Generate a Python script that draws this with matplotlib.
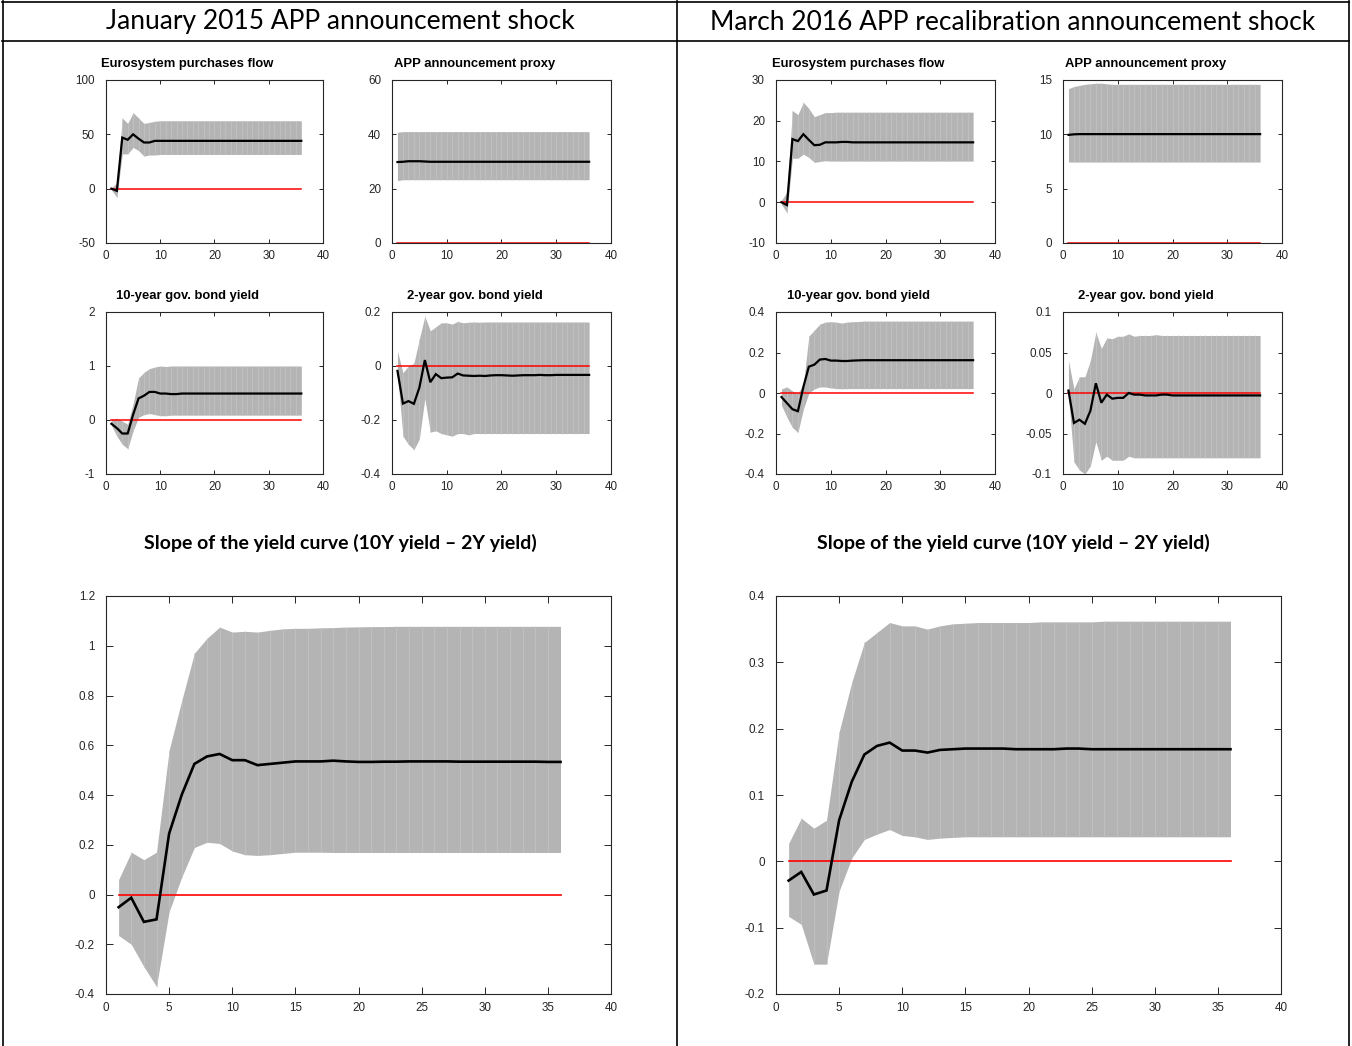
import numpy as np
import matplotlib
matplotlib.use("Agg")
import matplotlib.pyplot as plt
from matplotlib.lines import Line2D
from matplotlib.ticker import FuncFormatter

plt.rcParams['font.family'] = ['Liberation Sans', 'DejaVu Sans']
plt.rcParams['axes.unicode_minus'] = False

# horizon
h = list(range(1, 37))

# ---- January 2015 APP announcement shock ----
jan_flow_med = [0.0, -2.0, 47.0, 45.0, 50.0, 46.0, 42.5, 42.5, 44.0, 44.0, 44.0, 44.0,
                44.0, 44.0, 44.0, 44.0, 44.0, 44.0, 44.0, 44.0, 44.0, 44.0, 44.0, 44.0,
                44.0, 44.0, 44.0, 44.0, 44.0, 44.0, 44.0, 44.0, 44.0, 44.0, 44.0, 44.0]
jan_flow_hi = [1.0, 5.0, 65.0, 60.0, 70.0, 65.0, 60.0, 61.0, 62.0, 62.5, 62.5, 62.5,
               62.5, 62.5, 62.5, 62.5, 62.5, 62.5, 62.5, 62.5, 62.5, 62.5, 62.5, 62.5,
               62.5, 62.5, 62.5, 62.5, 62.5, 62.5, 62.5, 62.5, 62.5, 62.5, 62.5, 62.5]
jan_flow_lo = [-1.0, -8.0, 32.0, 32.0, 38.0, 35.0, 30.0, 31.0, 31.0, 31.5, 31.5, 31.5,
               31.5, 31.5, 31.5, 31.5, 31.5, 31.5, 31.5, 31.5, 31.5, 31.5, 31.5, 31.5,
               31.5, 31.5, 31.5, 31.5, 31.5, 31.5, 31.5, 31.5, 31.5, 31.5, 31.5, 31.5]

jan_proxy_med = [29.8, 29.9, 30.1, 30.1, 30.1, 30.0, 29.9, 29.9, 29.9, 29.9, 29.9, 29.9,
                 29.9, 29.9, 29.9, 29.9, 29.9, 29.9, 29.9, 29.9, 29.9, 29.9, 29.9, 29.9,
                 29.9, 29.9, 29.9, 29.9, 29.9, 29.9, 29.9, 29.9, 29.9, 29.9, 29.9, 29.9]
jan_proxy_hi = [40.8, 41.0, 41.0, 41.0, 41.0, 41.0, 41.0, 41.0, 41.0, 41.0, 41.0, 41.0,
                41.0, 41.0, 41.0, 41.0, 41.0, 41.0, 41.0, 41.0, 41.0, 41.0, 41.0, 41.0,
                41.0, 41.0, 41.0, 41.0, 41.0, 41.0, 41.0, 41.0, 41.0, 41.0, 41.0, 41.0]
jan_proxy_lo = [23.0, 23.3, 23.3, 23.3, 23.3, 23.3, 23.3, 23.3, 23.3, 23.3, 23.3, 23.3,
                23.3, 23.3, 23.3, 23.3, 23.3, 23.3, 23.3, 23.3, 23.3, 23.3, 23.3, 23.3,
                23.3, 23.3, 23.3, 23.3, 23.3, 23.3, 23.3, 23.3, 23.3, 23.3, 23.3, 23.3]

jan_10y_med = [-0.07, -0.15, -0.25, -0.25, 0.10, 0.40, 0.45, 0.52, 0.52, 0.49, 0.49, 0.48,
               0.48, 0.49, 0.49, 0.49, 0.49, 0.49, 0.49, 0.49, 0.49, 0.49, 0.49, 0.49,
               0.49, 0.49, 0.49, 0.49, 0.49, 0.49, 0.49, 0.49, 0.49, 0.49, 0.49, 0.49]
jan_10y_hi = [0.02, 0.03, -0.02, -0.08, 0.30, 0.78, 0.88, 0.95, 0.98, 1.00, 0.99, 1.00,
              1.00, 1.00, 1.00, 1.00, 1.00, 1.00, 1.00, 1.00, 1.00, 1.00, 1.00, 1.00,
              1.00, 1.00, 1.00, 1.00, 1.00, 1.00, 1.00, 1.00, 1.00, 1.00, 1.00, 1.00]
jan_10y_lo = [-0.10, -0.30, -0.45, -0.53, -0.20, 0.05, 0.10, 0.12, 0.10, 0.08, 0.08, 0.09,
              0.09, 0.09, 0.09, 0.09, 0.09, 0.09, 0.09, 0.09, 0.09, 0.09, 0.09, 0.09,
              0.09, 0.09, 0.09, 0.09, 0.09, 0.09, 0.09, 0.09, 0.09, 0.09, 0.09, 0.09]

jan_2y_med = [-0.018, -0.139, -0.130, -0.140, -0.080, 0.022, -0.060, -0.030, -0.045, -0.043, -0.042, -0.028,
              -0.035, -0.036, -0.037, -0.036, -0.037, -0.035, -0.034, -0.034, -0.035, -0.036, -0.035, -0.034,
              -0.034, -0.034, -0.033, -0.034, -0.034, -0.033, -0.033, -0.033, -0.033, -0.033, -0.033, -0.033]
jan_2y_hi = [0.055, -0.025, 0.000, 0.010, 0.100, 0.184, 0.130, 0.145, 0.160, 0.160, 0.155, 0.165,
             0.160, 0.162, 0.163, 0.162, 0.163, 0.163, 0.163, 0.163, 0.163, 0.163, 0.163, 0.163,
             0.163, 0.163, 0.163, 0.163, 0.163, 0.163, 0.163, 0.163, 0.163, 0.163, 0.163, 0.163]
jan_2y_lo = [-0.030, -0.260, -0.290, -0.310, -0.270, -0.120, -0.245, -0.240, -0.250, -0.255, -0.260, -0.250,
             -0.250, -0.255, -0.250, -0.250, -0.250, -0.250, -0.250, -0.250, -0.250, -0.250, -0.250, -0.250,
             -0.250, -0.250, -0.250, -0.250, -0.250, -0.250, -0.250, -0.250, -0.250, -0.250, -0.250, -0.250]

jan_slope_med = [-0.051, -0.013, -0.110, -0.100, 0.245, 0.401, 0.525, 0.555, 0.565, 0.540, 0.540, 0.520,
                 0.525, 0.530, 0.535, 0.535, 0.535, 0.538, 0.535, 0.533, 0.533, 0.534, 0.534, 0.535,
                 0.535, 0.535, 0.535, 0.534, 0.534, 0.534, 0.534, 0.534, 0.534, 0.534, 0.533, 0.533]
jan_slope_hi = [0.060, 0.170, 0.140, 0.170, 0.580, 0.780, 0.970, 1.030, 1.075, 1.055, 1.058, 1.055,
                1.062, 1.068, 1.070, 1.070, 1.072, 1.073, 1.075, 1.076, 1.077, 1.077, 1.078, 1.078,
                1.078, 1.078, 1.078, 1.078, 1.078, 1.078, 1.078, 1.078, 1.078, 1.078, 1.078, 1.078]
jan_slope_lo = [-0.165, -0.200, -0.290, -0.370, -0.069, 0.070, 0.189, 0.210, 0.205, 0.175, 0.160, 0.157,
                0.160, 0.165, 0.170, 0.170, 0.170, 0.169, 0.169, 0.169, 0.169, 0.169, 0.169, 0.169,
                0.169, 0.169, 0.169, 0.169, 0.169, 0.169, 0.169, 0.169, 0.169, 0.169, 0.169, 0.169]

# ---- March 2016 APP recalibration announcement shock ----
mar_flow_med = [0.0, -0.7, 15.5, 15.0, 16.7, 15.3, 14.0, 14.1, 14.7, 14.7, 14.7, 14.8,
                14.8, 14.7, 14.7, 14.7, 14.7, 14.7, 14.7, 14.7, 14.7, 14.7, 14.7, 14.7,
                14.7, 14.7, 14.7, 14.7, 14.7, 14.7, 14.7, 14.7, 14.7, 14.7, 14.7, 14.7]
mar_flow_hi = [0.5, 2.5, 22.5, 21.5, 24.5, 23.0, 21.0, 21.5, 22.0, 22.0, 22.1, 22.1,
               22.1, 22.1, 22.1, 22.1, 22.1, 22.1, 22.1, 22.1, 22.1, 22.1, 22.1, 22.1,
               22.1, 22.1, 22.1, 22.1, 22.1, 22.1, 22.1, 22.1, 22.1, 22.1, 22.1, 22.1]
mar_flow_lo = [-0.5, -2.6, 10.8, 10.8, 11.8, 11.0, 9.8, 10.0, 10.2, 10.1, 10.1, 10.1,
               10.1, 10.1, 10.1, 10.1, 10.1, 10.1, 10.1, 10.1, 10.1, 10.1, 10.1, 10.1,
               10.1, 10.1, 10.1, 10.1, 10.1, 10.1, 10.1, 10.1, 10.1, 10.1, 10.1, 10.1]

mar_proxy_med = [9.95, 10.0, 10.02, 10.02, 10.02, 10.02, 10.02, 10.02, 10.02, 10.02, 10.02, 10.02,
                 10.02, 10.02, 10.02, 10.02, 10.02, 10.02, 10.02, 10.02, 10.02, 10.02, 10.02, 10.02,
                 10.02, 10.02, 10.02, 10.02, 10.02, 10.02, 10.02, 10.02, 10.02, 10.02, 10.02, 10.02]
mar_proxy_hi = [14.2, 14.4, 14.5, 14.6, 14.65, 14.7, 14.7, 14.65, 14.6, 14.6, 14.6, 14.6,
                14.6, 14.6, 14.6, 14.6, 14.6, 14.6, 14.6, 14.6, 14.6, 14.6, 14.6, 14.6,
                14.6, 14.6, 14.6, 14.6, 14.6, 14.6, 14.6, 14.6, 14.6, 14.6, 14.6, 14.6]
mar_proxy_lo = [7.45, 7.45, 7.45, 7.45, 7.45, 7.45, 7.45, 7.45, 7.45, 7.45, 7.45, 7.45,
                7.45, 7.45, 7.45, 7.45, 7.45, 7.45, 7.45, 7.45, 7.45, 7.45, 7.45, 7.45,
                7.45, 7.45, 7.45, 7.45, 7.45, 7.45, 7.45, 7.45, 7.45, 7.45, 7.45, 7.45]

mar_10y_med = [-0.020, -0.050, -0.080, -0.090, 0.030, 0.130, 0.140, 0.165, 0.168, 0.160, 0.160, 0.158,
               0.158, 0.160, 0.161, 0.162, 0.162, 0.162, 0.162, 0.162, 0.162, 0.162, 0.162, 0.162,
               0.162, 0.162, 0.162, 0.162, 0.162, 0.162, 0.162, 0.162, 0.162, 0.162, 0.162, 0.162]
mar_10y_hi = [0.020, 0.030, 0.010, 0.000, 0.040, 0.281, 0.310, 0.340, 0.350, 0.352, 0.350, 0.345,
              0.350, 0.352, 0.353, 0.355, 0.355, 0.355, 0.355, 0.355, 0.355, 0.355, 0.355, 0.355,
              0.355, 0.355, 0.355, 0.355, 0.355, 0.355, 0.355, 0.355, 0.355, 0.355, 0.355, 0.355]
mar_10y_lo = [-0.060, -0.120, -0.170, -0.195, -0.080, 0.000, 0.020, 0.030, 0.030, 0.025, 0.022, 0.021,
              0.022, 0.022, 0.022, 0.022, 0.022, 0.022, 0.022, 0.022, 0.022, 0.022, 0.022, 0.022,
              0.022, 0.022, 0.022, 0.022, 0.022, 0.022, 0.022, 0.022, 0.022, 0.022, 0.022, 0.022]

mar_2y_med = [0.003, -0.037, -0.033, -0.038, -0.022, 0.012, -0.012, -0.002, -0.007, -0.006, -0.006, 0.000,
              -0.002, -0.002, -0.003, -0.003, -0.003, -0.002, -0.002, -0.003, -0.003, -0.003, -0.003, -0.003,
              -0.003, -0.003, -0.003, -0.003, -0.003, -0.003, -0.003, -0.003, -0.003, -0.003, -0.003, -0.003]
mar_2y_hi = [0.040, 0.005, 0.020, 0.020, 0.040, 0.075, 0.055, 0.068, 0.067, 0.070, 0.070, 0.073,
             0.070, 0.071, 0.071, 0.071, 0.072, 0.071, 0.071, 0.071, 0.071, 0.071, 0.071, 0.071,
             0.071, 0.071, 0.071, 0.071, 0.071, 0.071, 0.071, 0.071, 0.071, 0.071, 0.071, 0.071]
mar_2y_lo = [-0.003, -0.085, -0.095, -0.100, -0.090, -0.060, -0.083, -0.078, -0.083, -0.083, -0.083, -0.078,
             -0.080, -0.080, -0.080, -0.080, -0.080, -0.080, -0.080, -0.080, -0.080, -0.080, -0.080, -0.080,
             -0.080, -0.080, -0.080, -0.080, -0.080, -0.080, -0.080, -0.080, -0.080, -0.080, -0.080, -0.080]

mar_slope_med = [-0.029, -0.016, -0.050, -0.044, 0.062, 0.120, 0.161, 0.174, 0.179, 0.167, 0.167, 0.164,
                 0.168, 0.169, 0.170, 0.170, 0.170, 0.170, 0.169, 0.169, 0.169, 0.169, 0.170, 0.170,
                 0.169, 0.169, 0.169, 0.169, 0.169, 0.169, 0.169, 0.169, 0.169, 0.169, 0.169, 0.169]
mar_slope_hi = [0.027, 0.065, 0.050, 0.062, 0.195, 0.270, 0.330, 0.345, 0.360, 0.355, 0.355, 0.350,
                0.355, 0.358, 0.359, 0.360, 0.360, 0.360, 0.360, 0.360, 0.361, 0.361, 0.361, 0.361,
                0.361, 0.362, 0.362, 0.362, 0.362, 0.362, 0.362, 0.362, 0.362, 0.362, 0.362, 0.362]
mar_slope_lo = [-0.083, -0.095, -0.155, -0.155, -0.045, 0.005, 0.033, 0.041, 0.048, 0.039, 0.037, 0.033,
                0.035, 0.036, 0.037, 0.037, 0.037, 0.037, 0.037, 0.037, 0.037, 0.037, 0.037, 0.037,
                0.037, 0.037, 0.037, 0.037, 0.037, 0.037, 0.037, 0.037, 0.037, 0.037, 0.037, 0.037]

col_titles = ['January 2015 APP announcement shock',
              'March 2016 APP recalibration announcement shock']
slope_title = 'Slope of the yield curve (10Y yield \u2013 2Y yield)'

W, H = 1352, 1046
fig = plt.figure(figsize=(W / 100, H / 100), dpi=100)

BAND = '#b4b4b4'
AX_COL = '#262626'


def fmt(v, pos):
    return '%g' % round(v, 6)


def add_ax(x0, y0, x1, y1):
    return fig.add_axes([x0 / W, 1 - y1 / H, (x1 - x0) / W, (y1 - y0) / H])


def draw(ax, med, hi, lo, ylim, yticks, xstep, big=False, title=None):
    x = np.array(h)
    ax.fill_between(x, lo, hi, color=BAND, lw=0)
    # light seams like the original patch rendering
    ax.vlines(x[1:-1], np.array(lo)[1:-1], np.array(hi)[1:-1], color='#c6c6c6', lw=0.45)
    ax.plot([1, 36], [0, 0], color='#ff0000', lw=1.2 if big else 1.1)
    ax.plot(x, med, color='black', lw=1.9 if big else 1.6, solid_joinstyle='miter')
    ax.set_xlim(0, 40)
    ax.set_ylim(*ylim)
    ax.set_xticks(np.arange(0, 41, xstep))
    ax.set_yticks(yticks)
    ax.xaxis.set_major_formatter(FuncFormatter(fmt))
    ax.yaxis.set_major_formatter(FuncFormatter(fmt))
    ax.tick_params(direction='in', top=True, right=True, length=5 if big else 3,
                   width=0.7, color=AX_COL, labelcolor=AX_COL, labelsize=8.4)
    ax.tick_params(axis='y', pad=8)
    ax.tick_params(axis='x', pad=6 if big else 5)
    for s in ax.spines.values():
        s.set_linewidth(0.8)
        s.set_color(AX_COL)
    if title:
        wpx = ax.get_position().width * W
        hpx = ax.get_position().height * H
        ax.text(0.5 - 27 / wpx, 1 + 16 / hpx, title, transform=ax.transAxes,
                ha='center', va='center', fontsize=9.4, fontweight='bold')


# column A/B (January) and C/D (March) small panels
small = [
    ((106, 80, 323, 243), jan_flow_med, jan_flow_hi, jan_flow_lo, (-50, 100), [-50, 0, 50, 100], 'Eurosystem purchases flow'),
    ((392, 80, 611, 243), jan_proxy_med, jan_proxy_hi, jan_proxy_lo, (0, 60), [0, 20, 40, 60], 'APP announcement proxy'),
    ((106, 312, 323, 474), jan_10y_med, jan_10y_hi, jan_10y_lo, (-1, 2), [-1, 0, 1, 2], '10-year gov. bond yield'),
    ((392, 312, 611, 474), jan_2y_med, jan_2y_hi, jan_2y_lo, (-0.4, 0.2), [-0.4, -0.2, 0, 0.2], '2-year gov. bond yield'),
    ((776, 80, 995, 243), mar_flow_med, mar_flow_hi, mar_flow_lo, (-10, 30), [-10, 0, 10, 20, 30], 'Eurosystem purchases flow'),
    ((1063, 80, 1282, 243), mar_proxy_med, mar_proxy_hi, mar_proxy_lo, (0, 15), [0, 5, 10, 15], 'APP announcement proxy'),
    ((776, 312, 995, 474), mar_10y_med, mar_10y_hi, mar_10y_lo, (-0.4, 0.4), [-0.4, -0.2, 0, 0.2, 0.4], '10-year gov. bond yield'),
    ((1063, 312, 1282, 474), mar_2y_med, mar_2y_hi, mar_2y_lo, (-0.1, 0.1), [-0.1, -0.05, 0, 0.05, 0.1], '2-year gov. bond yield'),
]
for box, med, hi, lo, yl, yt, title in small:
    ax = add_ax(*box)
    draw(ax, med, hi, lo, yl, yt, 10, title=title)

ax = add_ax(106, 596, 611, 994)
draw(ax, jan_slope_med, jan_slope_hi, jan_slope_lo, (-0.4, 1.2),
     np.round(np.arange(-0.4, 1.21, 0.2), 1), 5, big=True)
ax = add_ax(776, 596, 1281, 994)
draw(ax, mar_slope_med, mar_slope_hi, mar_slope_lo, (-0.2, 0.4),
     np.round(np.arange(-0.2, 0.41, 0.1), 1), 5, big=True)

# headers and section titles
for cx, t in zip([340, 1013], col_titles):
    fig.text(cx / W, 1 - 22 / H, t, ha='center', va='center', fontsize=19, family='Lato')
    fig.text(cx / W, 1 - 543 / H, slope_title, ha='center', va='center', fontsize=14,
             family='Lato', fontweight='bold')

# table frame
def hline(y, x0=2, x1=1349):
    fig.add_artist(Line2D([x0 / W, x1 / W], [1 - y / H, 1 - y / H], color='black', lw=1.2))


def vline(x, y0=1, y1=1046):
    fig.add_artist(Line2D([x / W, x / W], [1 - y0 / H, 1 - y1 / H], color='black', lw=1.2))


hline(1.5)
hline(41)
vline(2.5)
vline(676.5)
vline(1349)

fig.savefig('out.png', dpi=100)
